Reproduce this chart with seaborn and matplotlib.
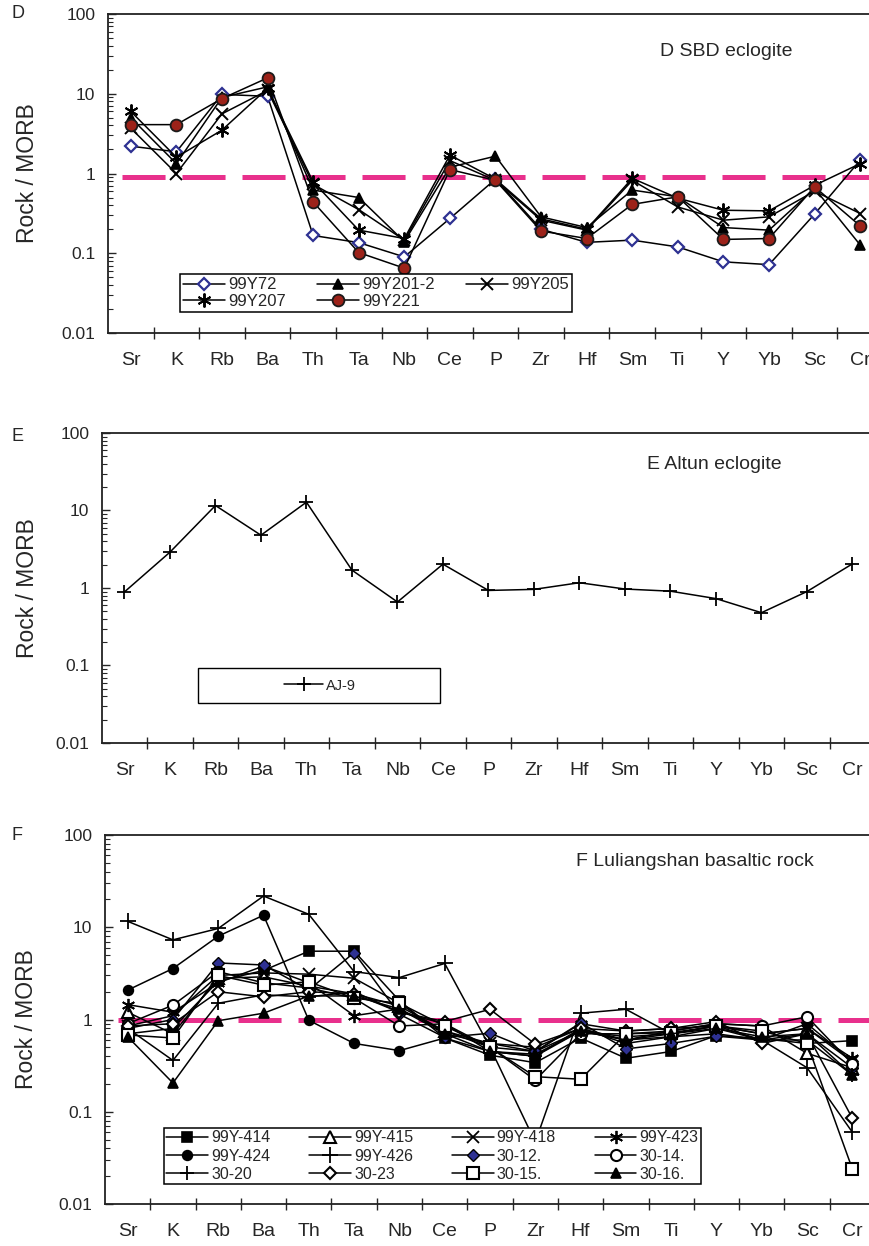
import numpy as np
import matplotlib
matplotlib.use("Agg")
import matplotlib.pyplot as plt
from matplotlib.ticker import FixedLocator, FixedFormatter, NullFormatter, LogLocator
from matplotlib.patches import Rectangle
import seaborn as sns

# ---------------------------------------------------------------- data
elements = ["Sr", "K", "Rb", "Ba", "Th", "Ta", "Nb", "Ce", "P",
            "Zr", "Hf", "Sm", "Ti", "Y", "Yb", "Sc", "Cr"]
y_tick_values = [0.01, 0.1, 1, 10, 100]
y_tick_labels = ["0.01", "0.1", "1", "10", "100"]

# D  SBD eclogite
d_99Y72 = [2.2, 1.87, 9.8, 9.3, 0.167, 0.136, 0.09, 0.273, 0.85, 0.2, 0.137, 0.146, 0.12, 0.078, 0.072, 0.31, 1.47]
d_99Y201_2 = [5.0, 1.33, 9.0, 12.2, 0.62, 0.5, 0.14, 1.2, 1.65, 0.286, 0.21, 0.62, 0.51, 0.21, 0.195, 0.65, 0.127]
d_99Y205 = [3.7, 1.0, 5.6, 11.0, 0.73, 0.353, 0.146, 1.45, 0.82, 0.26, 0.195, 0.82, 0.38, 0.26, 0.286, 0.6, 0.315]
d_99Y207 = [6.0, 1.6, 3.5, 11.7, 0.785, 0.195, 0.153, 1.7, 0.85, 0.27, 0.2, 0.87, 0.49, 0.346, 0.34, 0.71, 1.33]
d_99Y221 = [4.1, 4.1, 8.7, 15.8, 0.44, 0.102, 0.065, 1.12, 0.82, 0.19, 0.153, 0.41, 0.51, 0.149, 0.153, 0.68, 0.22]

# E  Altun eclogite
e_AJ9 = [0.89, 2.9, 11.6, 4.8, 12.8, 1.7, 0.66, 2.03, 0.93, 0.96, 1.17, 0.97, 0.91, 0.73, 0.48, 0.9, 2.05]

# F  Luliangshan basaltic rock
f_99Y414 = [0.7, 0.8, 2.6, 3.4, 5.5, 5.5, 1.6, 0.63, 0.41, 0.34, 0.63, 0.38, 0.45, 0.67, 0.62, 0.55, 0.59]
f_99Y415 = [1.2, 0.7, 2.8, 2.9, 2.3, 1.9, 1.4, 0.75, 0.55, 0.5, 0.8, 0.6, 0.75, 0.9, 0.85, 0.43, 0.3]
f_99Y418 = [0.85, 1.1, 3.0, 3.2, 3.1, 2.8, 1.5, 0.7, 0.55, 0.45, 0.75, 0.65, 0.7, 0.85, 0.7, 0.8, 0.35]
f_99Y423 = [1.45, 1.2, 2.5, 3.8, 2.5, 1.1, 1.3, 0.75, 0.5, 0.45, 0.9, 0.75, 0.8, 0.85, 0.7, 0.8, 0.38]
f_99Y424 = [2.08, 3.57, 8.0, 13.5, 0.98, 0.55, 0.46, 0.63, 0.45, 0.4, 0.8, 0.55, 0.65, 0.7, 0.6, 0.9, 0.35]
f_99Y426 = [11.6, 7.3, 9.7, 21.8, 13.8, 3.3, 2.85, 4.05, 0.5, 0.047, 1.17, 1.29, 0.7, 0.85, 0.6, 0.3, 0.06]
f_30_12 = [0.8, 1.0, 4.1, 3.9, 2.1, 5.3, 1.14, 0.64, 0.71, 0.45, 0.92, 0.48, 0.55, 0.66, 0.6, 0.7, 0.3]
f_30_14 = [0.9, 1.43, 3.3, 2.5, 2.2, 1.7, 0.85, 0.9, 0.5, 0.22, 0.7, 0.7, 0.75, 0.9, 0.85, 1.07, 0.33]
f_30_20 = [0.8, 0.36, 1.5, 1.85, 1.76, 2.0, 1.2, 0.9, 0.45, 0.4, 0.75, 0.6, 0.65, 0.8, 0.6, 0.6, 0.25]
f_30_23 = [0.85, 0.9, 2.0, 1.76, 2.0, 1.9, 1.2, 0.95, 1.29, 0.54, 0.8, 0.75, 0.8, 0.95, 0.55, 0.7, 0.085]
f_30_15 = [0.68, 0.63, 3.0, 2.36, 2.56, 1.7, 1.5, 0.85, 0.5, 0.24, 0.225, 0.7, 0.72, 0.85, 0.75, 0.55, 0.024]
f_30_16 = [0.65, 0.205, 0.97, 1.17, 1.8, 1.8, 1.3, 0.7, 0.45, 0.42, 0.75, 0.6, 0.7, 0.8, 0.65, 0.7, 0.25]

d_reference = 0.9
f_reference = 1.0

# ---------------------------------------------------------------- style
sns.set_style("white")
plt.rcParams["font.family"] = ["Liberation Sans", "DejaVu Sans"]
plt.rcParams["lines.scale_dashes"] = False

W, H = 870, 1246
fig = plt.figure(figsize=(W / 100, H / 100), dpi=100)
fig.patch.set_facecolor("white")

PINK = "#E8308C"
NAVY = "#2E3192"
DARKRED = "#9C2219"
ASTER = (6, 2, 0)


def px_axes(left, top, width, height):
    return fig.add_axes([left / W, 1 - (top + height) / H, width / W, height / H])


def fig_xy(x, y):
    return x / W, 1 - y / H


def setup(ax, left, width):
    ax.set_yscale("log")
    ax.set_ylim(0.01, 100)
    ax.set_xlim(-0.5, len(elements) - 0.5)
    ax.yaxis.set_major_locator(FixedLocator(y_tick_values))
    ax.yaxis.set_major_formatter(FixedFormatter(y_tick_labels))
    ax.yaxis.set_minor_locator(LogLocator(base=10, subs=np.arange(2, 10)))
    ax.yaxis.set_minor_formatter(NullFormatter())
    ax.tick_params(axis="y", which="major", direction="in", length=6, width=1.0,
                   pad=9, labelsize=12.5, left=True, right=False)
    ax.tick_params(axis="y", which="minor", direction="in", length=3.5, width=0.8,
                   left=True, right=False)
    ax.xaxis.set_major_locator(FixedLocator(np.arange(0.5, len(elements) - 1, 1)))
    ax.xaxis.set_major_formatter(NullFormatter())
    ax.xaxis.set_minor_locator(FixedLocator(np.arange(len(elements))))
    ax.xaxis.set_minor_formatter(FixedFormatter(elements))
    ax.tick_params(axis="x", which="major", direction="inout", length=8, width=1.0,
                   bottom=True, top=False)
    ax.tick_params(axis="x", which="minor", length=0, pad=14, labelsize=14)
    for s in ax.spines.values():
        s.set_linewidth(1.3)
        s.set_color("#222222")
    ax.grid(False)
    ax.set_xlabel("")
    ax.set_ylabel("Rock / MORB", fontsize=16.5, va="center")
    ax.yaxis.set_label_coords((27 - left) / width, 0.5)


def draw(ax, values, label, marker, ms, mfc="black", mec="black", mew=1.2):
    sns.lineplot(x=np.arange(len(elements)), y=values, ax=ax, color="black",
                 linewidth=1.1, marker=marker, markersize=ms,
                 markerfacecolor=mfc, markeredgecolor=mec, markeredgewidth=mew,
                 zorder=3)
    line = ax.lines[-1]
    line.set_label(label)
    return line


# ---------------------------------------------------------------- D
d_left, d_w = 108, 775
axD = px_axes(d_left, 14, d_w, 319)
axD.axhline(d_reference, xmin=(121.7 - d_left) / d_w, xmax=1, color=PINK,
            linewidth=3.6, linestyle=(0, (31, 12.2)), zorder=1.5)
hD = {}
hD["99Y72"] = draw(axD, d_99Y72, "99Y72", "D", 6.5, mfc="white", mec=NAVY, mew=1.6)
hD["99Y201-2"] = draw(axD, d_99Y201_2, "99Y201-2", "^", 7)
hD["99Y205"] = draw(axD, d_99Y205, "99Y205", "x", 9, mew=1.4)
hD["99Y207"] = draw(axD, d_99Y207, "99Y207", ASTER, 10, mew=1.4)
hD["99Y221"] = draw(axD, d_99Y221, "99Y221", "o", 8.5, mfc=DARKRED, mec="#1a1a1a", mew=1.3)
setup(axD, d_left, d_w)
order = ["99Y72", "99Y207", "99Y201-2", "99Y221", "99Y205"]
x0, yt = fig_xy(180, 274)
legD = axD.legend([hD[k] for k in order], order, ncol=3, mode="expand",
                  loc="upper left", bbox_to_anchor=(x0, yt, 392 / W, 0),
                  bbox_transform=fig.transFigure, borderaxespad=0,
                  fontsize=12, handlelength=2.5, handletextpad=0.2,
                  labelspacing=0.1, borderpad=0.2, fancybox=False,
                  framealpha=1, edgecolor="black")
legD.get_frame().set_linewidth(1.1)
fig.text(*fig_xy(726, 52), "D SBD eclogite", fontsize=14, ha="center", va="center")
fig.text(*fig_xy(12, 14), "D", fontsize=13, ha="left", va="center")

# ---------------------------------------------------------------- E
e_left, e_w = 101.7, 773.5
axE = px_axes(e_left, 433, e_w, 310)
hE = draw(axE, e_AJ9, "AJ-9", "+", 10, mew=1.3)
setup(axE, e_left, e_w)
axE.add_patch(Rectangle(fig_xy(198, 703), 242 / W, 35 / H, transform=fig.transFigure,
                        facecolor="white", edgecolor="black", linewidth=1.0,
                        clip_on=False, zorder=4))
legE = axE.legend([hE], ["AJ-9"], loc="center",
                  bbox_to_anchor=fig_xy(320, 685.5), bbox_transform=fig.transFigure,
                  frameon=False, fontsize=10.5, handlelength=2.7, handletextpad=0.2)
legE.set_zorder(5)
fig.text(*fig_xy(714, 465), "E Altun eclogite", fontsize=14, ha="center", va="center")
fig.text(*fig_xy(12, 436), "E", fontsize=13, ha="left", va="center")

# ---------------------------------------------------------------- F
f_left, f_w = 105, 770
axF = px_axes(f_left, 835, f_w, 369)
axF.axhline(f_reference, xmin=(117.7 - f_left) / f_w, xmax=1, color=PINK,
            linewidth=3.6, linestyle=(0, (31, 12.2)), zorder=1.5)
hF = {}
hF["99Y-414"] = draw(axF, f_99Y414, "99Y-414", "s", 7)
hF["99Y-415"] = draw(axF, f_99Y415, "99Y-415", "^", 8, mfc="white", mew=1.5)
hF["99Y-418"] = draw(axF, f_99Y418, "99Y-418", "x", 8.5, mew=1.3)
hF["99Y-423"] = draw(axF, f_99Y423, "99Y-423", ASTER, 9.5, mew=1.3)
hF["99Y-424"] = draw(axF, f_99Y424, "99Y-424", "o", 7)
hF["99Y-426"] = draw(axF, f_99Y426, "99Y-426", "+", 11, mew=1.3)
hF["30-12."] = draw(axF, f_30_12, "30-12.", "D", 6, mfc=NAVY, mec="black", mew=1.0)
hF["30-14."] = draw(axF, f_30_14, "30-14.", "o", 8, mfc="white", mew=1.5)
hF["30-20"] = draw(axF, f_30_20, "30-20", "+", 10, mew=1.3)
hF["30-23"] = draw(axF, f_30_23, "30-23", "D", 6.5, mfc="white", mew=1.5)
hF["30-15."] = draw(axF, f_30_15, "30-15.", "s", 8, mfc="white", mew=1.5)
hF["30-16."] = draw(axF, f_30_16, "30-16.", "^", 7)
setup(axF, f_left, f_w)
orderF = ["99Y-414", "99Y-424", "30-20",
          "99Y-415", "99Y-426", "30-23",
          "99Y-418", "30-12.", "30-15.",
          "99Y-423", "30-14.", "30-16."]
x0, yt = fig_xy(164, 1128)
legF = axF.legend([hF[k] for k in orderF], orderF, ncol=4, mode="expand",
                  loc="upper left", bbox_to_anchor=(x0, yt, 537 / W, 0),
                  bbox_transform=fig.transFigure, borderaxespad=0,
                  fontsize=11.5, handlelength=2.6, handletextpad=0.2,
                  labelspacing=0.2, borderpad=0.15, fancybox=False,
                  framealpha=1, edgecolor="black")
legF.get_frame().set_linewidth(1.1)
fig.text(*fig_xy(695, 861), "F Luliangshan basaltic rock", fontsize=14,
         ha="center", va="center")
fig.text(*fig_xy(12, 836), "F", fontsize=13, ha="left", va="center")

fig.savefig("out.png", dpi=100, facecolor="white")
